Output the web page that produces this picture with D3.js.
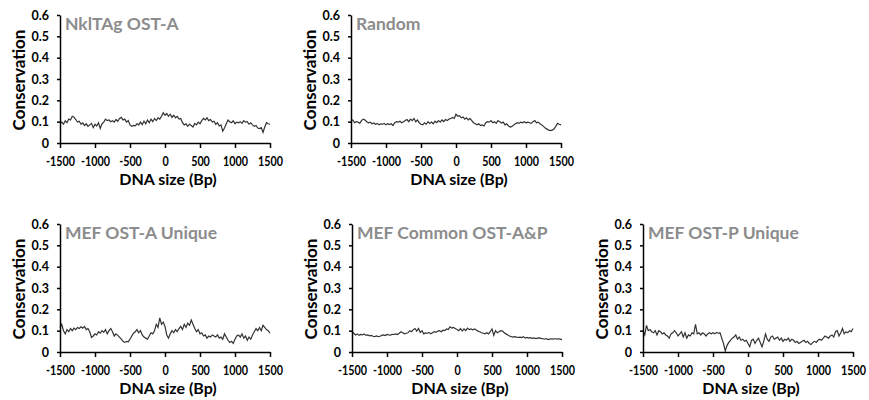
<!DOCTYPE html>
<html lang="en">
<head>
    <meta charset="UTF-8">
    <title>Conservation profiles</title>
    <style>
        body { margin: 0; background: #fff; }
        svg text { font-family: Lato, "Open Sans", sans-serif; font-weight: bold; }
    </style>
</head>
<body>
<script src="https://cdn.jsdelivr.net/npm/d3@7"></script>
<script>
    const width = 869, height = 400;

    // x positions in bp, one point every 25 bp
    const positions = d3.range(-1500, 1501, 25);
    const xTicks = [-1500, -1000, -500, 0, 500, 1000, 1500];
    const yTicks = [0, 0.1, 0.2, 0.3, 0.4, 0.5, 0.6];

    const titles = ["NklTAg OST-A", "Random", "MEF OST-A Unique", "MEF Common OST-A&P", "MEF OST-P Unique"];

    const nkltag = [0.092, 0.098, 0.088, 0.104, 0.095, 0.112, 0.108, 0.125, 0.121,
        0.11, 0.098, 0.102, 0.088, 0.094, 0.082, 0.09, 0.078,
        0.085, 0.092, 0.072, 0.088, 0.08, 0.095, 0.068, 0.09,
        0.098, 0.112, 0.105, 0.108, 0.1, 0.104, 0.098, 0.11,
        0.102, 0.115, 0.12, 0.108, 0.112, 0.098, 0.105, 0.085,
        0.078, 0.082, 0.08, 0.09, 0.085, 0.098, 0.086, 0.102,
        0.09, 0.108, 0.095, 0.112, 0.1, 0.115, 0.105, 0.118,
        0.112, 0.125, 0.142, 0.13,
        0.138, 0.125, 0.135, 0.12, 0.13, 0.118, 0.125, 0.112,
        0.115, 0.095, 0.085, 0.09, 0.078, 0.088, 0.082, 0.075,
        0.092, 0.085, 0.098, 0.09, 0.105, 0.115, 0.108, 0.118,
        0.105, 0.11, 0.098, 0.102, 0.088, 0.095, 0.08, 0.085,
        0.055, 0.07, 0.09, 0.108, 0.1, 0.095, 0.104, 0.09,
        0.098, 0.095, 0.1, 0.092, 0.105, 0.098, 0.1, 0.088,
        0.095, 0.085, 0.078, 0.082, 0.07, 0.068, 0.072, 0.05,
        0.075, 0.095, 0.09, 0.088];

    const random = [0.105, 0.108, 0.095, 0.1, 0.098, 0.092, 0.105, 0.112, 0.108,
        0.1, 0.095, 0.098, 0.09, 0.094, 0.088, 0.092, 0.085,
        0.09, 0.088, 0.092, 0.085, 0.09, 0.086, 0.09, 0.082,
        0.095, 0.1, 0.098, 0.102, 0.095, 0.1, 0.105, 0.11,
        0.1, 0.112, 0.105, 0.115, 0.1, 0.108, 0.095, 0.088,
        0.085, 0.095, 0.088, 0.1, 0.092, 0.098, 0.09, 0.102,
        0.095, 0.105, 0.098, 0.108, 0.1, 0.11, 0.105, 0.112,
        0.115, 0.12, 0.115, 0.135,
        0.125, 0.128, 0.118, 0.122, 0.112, 0.118, 0.108, 0.115,
        0.105, 0.095, 0.09, 0.085, 0.09, 0.082, 0.085, 0.08,
        0.095, 0.1, 0.098, 0.105, 0.095, 0.1, 0.092, 0.105,
        0.1, 0.094, 0.098, 0.085, 0.09, 0.08, 0.075, 0.078,
        0.085, 0.09, 0.095, 0.092, 0.098, 0.095, 0.1, 0.095,
        0.098, 0.095, 0.092, 0.1, 0.105, 0.095, 0.098, 0.09,
        0.085, 0.078, 0.07, 0.065, 0.06, 0.058, 0.06, 0.065,
        0.078, 0.092, 0.088, 0.085];

    const mefAUnique = [0.115, 0.13, 0.1, 0.085, 0.105, 0.095, 0.11, 0.1, 0.112,
        0.105, 0.115, 0.11, 0.118, 0.112, 0.12, 0.105, 0.11,
        0.095, 0.068, 0.075, 0.085, 0.08, 0.095, 0.088, 0.1,
        0.092, 0.105, 0.085, 0.1, 0.11, 0.095, 0.075, 0.085,
        0.078, 0.07, 0.06, 0.05, 0.045, 0.05, 0.048, 0.06,
        0.075, 0.088, 0.095, 0.105, 0.09, 0.1, 0.08, 0.07,
        0.065, 0.06, 0.075, 0.09, 0.085, 0.1, 0.13, 0.115,
        0.16, 0.13, 0.14, 0.12,
        0.08, 0.065, 0.085, 0.1, 0.09, 0.105, 0.095, 0.11,
        0.12, 0.105, 0.13, 0.115, 0.135, 0.125, 0.15, 0.13,
        0.11, 0.095, 0.105, 0.085, 0.09, 0.075, 0.08, 0.065,
        0.075, 0.07, 0.08, 0.075, 0.07, 0.08, 0.065, 0.07,
        0.06, 0.085, 0.07, 0.055, 0.045, 0.05, 0.04, 0.06,
        0.075, 0.08, 0.07, 0.085, 0.065, 0.075, 0.055, 0.07,
        0.06, 0.08, 0.095, 0.11, 0.1, 0.115, 0.1, 0.125,
        0.115, 0.105, 0.1, 0.088];

    const mefCommon = [0.095, 0.088, 0.08, 0.085, 0.078, 0.082, 0.08, 0.085, 0.078,
        0.08, 0.076, 0.078, 0.074, 0.072, 0.075, 0.072, 0.074,
        0.078, 0.08, 0.077, 0.082, 0.08, 0.079, 0.083, 0.082,
        0.085, 0.082, 0.088, 0.095, 0.09, 0.085, 0.088, 0.09,
        0.1, 0.095, 0.105, 0.11, 0.098, 0.11, 0.092, 0.1,
        0.085, 0.09, 0.088, 0.092, 0.085, 0.09, 0.095, 0.092,
        0.098, 0.1, 0.095, 0.102, 0.1, 0.108, 0.105, 0.118,
        0.112, 0.115, 0.11, 0.105,
        0.1, 0.11, 0.098, 0.108, 0.1, 0.112, 0.105, 0.108,
        0.104, 0.108, 0.103, 0.098, 0.095, 0.09, 0.088, 0.085,
        0.09, 0.085, 0.095, 0.108, 0.078, 0.1, 0.09, 0.095,
        0.1, 0.098, 0.09, 0.085, 0.08, 0.075, 0.072, 0.07,
        0.072, 0.07, 0.068, 0.07, 0.068, 0.072, 0.065, 0.068,
        0.065, 0.067, 0.064, 0.066, 0.063, 0.065, 0.066, 0.064,
        0.062, 0.06, 0.063, 0.058, 0.06, 0.062, 0.06, 0.063,
        0.06, 0.062, 0.06, 0.058];

    const mefPUnique = [0.1, 0.08, 0.125, 0.1, 0.105, 0.095, 0.09, 0.1, 0.08,
        0.1, 0.095, 0.085, 0.09, 0.08, 0.075, 0.065, 0.085,
        0.09, 0.1, 0.09, 0.075, 0.085, 0.095, 0.07, 0.09,
        0.065, 0.08, 0.075, 0.09, 0.085, 0.13, 0.085, 0.09,
        0.08, 0.09, 0.085, 0.075, 0.085, 0.09, 0.085, 0.09,
        0.085, 0.092, 0.088, 0.09, 0.065, 0.04, 0.005, 0.03,
        0.045, 0.055, 0.065, 0.07, 0.08, 0.06, 0.07, 0.055,
        0.06, 0.05, 0.055, 0.04,
        0.025, 0.055, 0.06, 0.04, 0.055, 0.065, 0.045, 0.025,
        0.05, 0.085, 0.06, 0.05, 0.07, 0.075, 0.06, 0.065,
        0.07, 0.055, 0.065, 0.05, 0.06, 0.055, 0.065, 0.05,
        0.06, 0.055, 0.045, 0.05, 0.04, 0.045, 0.05, 0.055,
        0.045, 0.05, 0.04, 0.035, 0.045, 0.05, 0.045, 0.055,
        0.06, 0.055, 0.065, 0.075, 0.07, 0.065, 0.075, 0.08,
        0.07, 0.095, 0.1, 0.075, 0.09, 0.11, 0.085, 0.095,
        0.09, 0.1, 0.095, 0.11];

    const series = [nkltag, random, mefAUnique, mefCommon, mefPUnique];

    // plot origin (left, top) of each panel
    const panels = [
        {left: 60, top: 15},
        {left: 351, top: 15},
        {left: 60, top: 224},
        {left: 352, top: 224},
        {left: 643, top: 224}
    ];
    const pw = 210, ph = 128;

    const svg = d3.select("body")
        .append("svg")
        .attr("width", width)
        .attr("height", height);

    panels.forEach(function (p, k) {
        const g = svg.append("g").attr("transform", `translate(${p.left},${p.top})`);

        const x = d3.scaleLinear().domain([-1500, 1500]).range([0, pw]);
        const y = d3.scaleLinear().domain([0, 0.6]).range([ph, 0]);

        const line = d3.line()
            .x((d, i) => x(positions[i]))
            .y(d => y(d));

        g.append("path")
            .datum(series[k])
            .attr("d", line)
            .attr("fill", "none")
            .attr("stroke", "#333")
            .attr("stroke-width", 1.2);

        const yAxis = g.append("g")
            .call(d3.axisLeft(y).tickValues(yTicks).tickSize(3).tickSizeOuter(0).tickPadding(8)
                .tickFormat(d => d === 0 ? "0" : d3.format(".1f")(d)));
        const xAxis = g.append("g")
            .attr("transform", `translate(0,${ph})`)
            .call(d3.axisBottom(x).tickValues(xTicks).tickSize(5).tickSizeOuter(0).tickPadding(9)
                .tickFormat(d => String(d)));

        [xAxis, yAxis].forEach(function (a) {
            a.select(".domain").attr("stroke", "#000").attr("stroke-width", 1.5);
            a.selectAll(".tick line").attr("stroke", "#000").attr("stroke-width", 1.5);
            a.selectAll(".tick text")
                .attr("fill", "#000")
                .style("font-size", "12.5px")
                .style("font-family", "Lato, sans-serif")
                .style("font-weight", "bold");
        });

        // Calibri-like narrower digits on the x axis
        xAxis.selectAll(".tick text").each(function () {
            const w = this.getComputedTextLength();
            d3.select(this).attr("textLength", w * 0.86).attr("lengthAdjust", "spacingAndGlyphs");
        });

        g.append("text")
            .attr("x", 5)
            .attr("y", 15)
            .attr("fill", "#8c8c8c")
            .style("font-size", "17.5px")
            .text(titles[k]);

        g.append("text")
            .attr("transform", `translate(-35,${ph / 2 + 1}) rotate(-90)`)
            .attr("text-anchor", "middle")
            .attr("fill", "#000")
            .style("font-size", "17px")
            .text("Conservation");

        g.append("text")
            .attr("x", pw / 2 + 3)
            .attr("y", ph + 42)
            .attr("text-anchor", "middle")
            .attr("fill", "#000")
            .style("font-size", "16px")
            .text("DNA size (Bp)");
    });
</script>
</body>
</html>
